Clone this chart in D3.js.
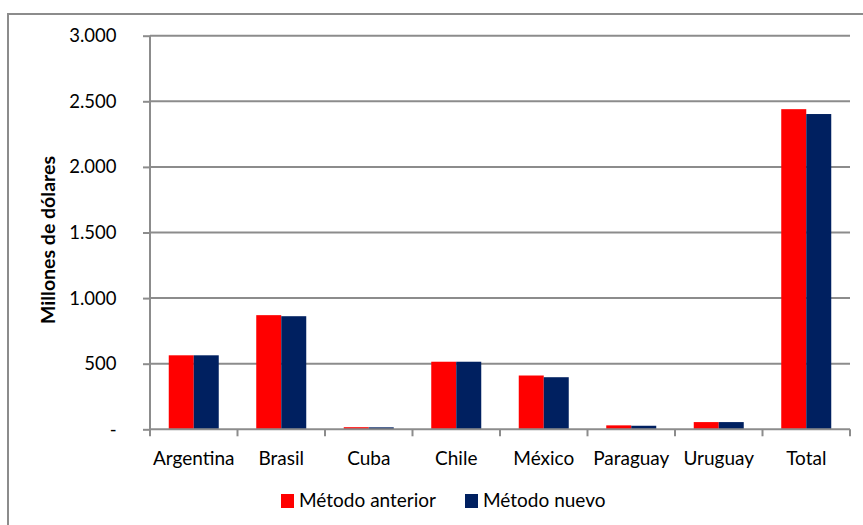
<!DOCTYPE html>
<html><head><meta charset="utf-8">
<script src="https://cdn.jsdelivr.net/npm/d3@7"></script>
<style>body{margin:0;background:#fff}svg{display:block}text{font-family:Lato,"Open Sans",sans-serif}</style>
</head><body>
<script>
const categories = ["Argentina","Brasil","Cuba","Chile","México","Paraguay","Uruguay","Total"];
const seriesNames = ["Método anterior","Método nuevo"];
const anterior = [564, 870, 16, 515, 410, 30, 55, 2440];
const nuevo = [564, 862, 15, 515, 397, 27, 55, 2403];
const yTicks = [0, 500, 1000, 1500, 2000, 2500, 3000];
const yTickLabels = ["-", "500", "1.000", "1.500", "2.000", "2.500", "3.000"];
const colors = ["#ff0000", "#002060"];

(function () {
const W = 863, H = 525;
const FONT = "Lato, 'Open Sans', sans-serif";
const svg = d3.select("body").append("svg").attr("width", W).attr("height", H);
svg.append("rect").attr("x", 8).attr("y", 14).attr("width", 900).attr("height", 600)
  .attr("fill", "#fff").attr("stroke", "#8c8c8c").attr("stroke-width", 2);

const pL = 150, pR = 850, pT = 35.7, pB = 429.3;
const x = d3.scaleBand().domain(categories).range([pL, pR]).paddingInner(0.4286).paddingOuter(0.2143);
const x1 = d3.scaleBand().domain(seriesNames).range([0, x.bandwidth()]);
const y = d3.scaleLinear().domain([0, 3000]).range([pB, pT]);

// gridlines
svg.append("g").selectAll("line").data(yTicks.slice(1)).join("line")
  .attr("x1", pL).attr("x2", pR).attr("y1", d => y(d)).attr("y2", d => y(d))
  .attr("stroke", "#8c8c8c").attr("stroke-width", 2);

// bars
const data = categories.map((c, i) => ({c, v: [anterior[i], nuevo[i]]}));
const g = svg.append("g").selectAll("g").data(data).join("g").attr("transform", d => `translate(${x(d.c)},0)`);
g.selectAll("rect").data(d => d.v.map((v, j) => ({v, s: seriesNames[j], j}))).join("rect")
  .attr("x", d => x1(d.s)).attr("width", x1.bandwidth())
  .attr("y", d => y(d.v)).attr("height", d => y(0) - y(d.v))
  .attr("fill", d => colors[d.j]);

// y axis
const yAxis = d3.axisLeft(y).tickValues(yTicks).tickFormat((d, i) => yTickLabels[i]).tickSize(7).tickPadding(26.5);
const ya = svg.append("g").attr("transform", `translate(${pL},0)`).call(yAxis);
ya.select(".domain").attr("stroke", "#8c8c8c").attr("stroke-width", 2).attr("d", `M0,${y(3000)}V${y(0)}`);
ya.selectAll(".tick line").attr("stroke", "#8c8c8c").attr("stroke-width", 2);
ya.selectAll(".tick text").attr("font-size", 18.5).attr("fill", "#000").attr("font-family", FONT);

// x axis
const xAxis = d3.axisBottom(x).tickSize(0).tickPadding(22);
const xa = svg.append("g").attr("transform", `translate(0,${pB})`).call(xAxis);
xa.select(".domain").attr("stroke", "#8c8c8c").attr("stroke-width", 2).attr("d", `M${pL},0H${pR}`);
xa.selectAll(".tick text").attr("font-size", 19).attr("fill", "#000").attr("font-family", FONT);
const step = x.step();
xa.append("g").selectAll("line").data(d3.range(categories.length + 1)).join("line")
  .attr("x1", i => pL + i * step).attr("x2", i => pL + i * step)
  .attr("y1", 0).attr("y2", 7).attr("stroke", "#8c8c8c").attr("stroke-width", 2);

// y title
svg.append("text").attr("transform", `translate(55,240) rotate(-90)`)
  .attr("text-anchor", "middle").attr("font-size", 19.5).attr("font-weight", "bold").text("Millones de dólares");

// legend
const legX = [281, 465];
const leg = svg.append("g").selectAll("g").data(seriesNames).join("g")
  .attr("transform", (d, i) => `translate(${legX[i]},494)`);
leg.append("rect").attr("width", 13).attr("height", 14).attr("fill", (d, i) => colors[i]);
leg.append("text").attr("x", 18).attr("y", 12.5).attr("font-size", 19).text(d => d);
})();
</script>
</body></html>
